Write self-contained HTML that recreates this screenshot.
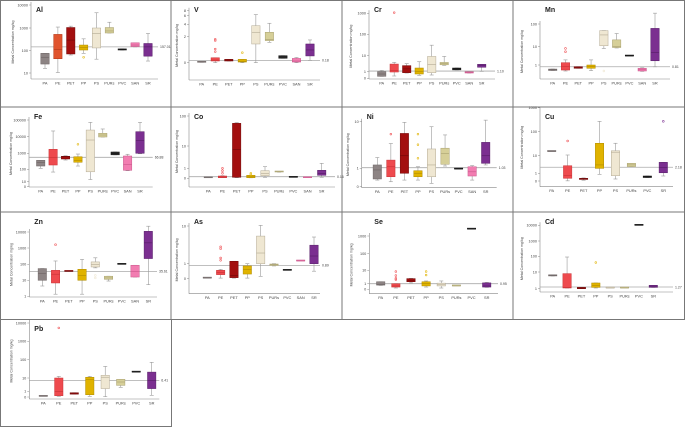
<!DOCTYPE html>
<html><head><meta charset="utf-8"><style>
html,body{margin:0;padding:0;background:#fff;}
svg{display:block;font-family:"Liberation Sans",sans-serif;}
</style></head><body>
<svg id="fig" width="685" height="430" viewBox="0 0 685 430"></svg>
<script>
// ===== DATA (mg/kg) — each box: [min, q1, median, q3, max]; null = no data =====
const cats9 = ["PA","PE","PET","PP","PS","PURs","PVC","SAN","SR"];
const cats8 = ["PA","PE","PET","PP","PS","PURs","PVC","SR"];
const alBoxes = [[16,25,50,75,75],[10.5,43,110,520,1100],[63,70,290,1050,1200],[75,105,138,175,330],[41,130,570,1000,4600],[600,600,740,1050,1780],[105,105,110,118,118],[145,150,175,220,220],[34,56,145,205,570]];
const alOut = [[3,50]];
const vBoxes = [[0.03,0.03,0.05,0.07,0.07],[0,0.13,0.2,0.38,0.38],[0.13,0.13,0.2,0.26,0.26],[0,0.05,0.1,0.26,0.26],[0,1.44,2.56,3.7,6.4],[1.57,1.7,1.8,2.56,4.2],[0.34,0.34,0.44,0.54,0.54],[0,0.05,0.13,0.33,0.4],[0.18,0.52,0.98,1.44,1.75]];
const vOut = [[1,0.85],[1,1.05],[1,1.7],[1,1.8],[3,0.77]];
const crBoxes = [[0.3,0.3,0.65,1,1.2],[0.35,0.95,1.2,3,3.8],[0.8,0.85,1.5,2.4,3.2],[0.45,0.65,1,1.7,4.2],[0.5,0.85,2.9,9,31],[2.5,2.7,3.3,3.8,9],[1.3,1.3,1.5,1.7,1.7],[0.8,0.8,0.9,1,1],[1.05,1.9,2.5,2.9,2.9]];
const crOut = [[1,1070]];
const mnBoxes = [[0.5,0.5,0.55,0.6,0.6],[0.47,0.53,0.81,1.34,1.9],[0.66,0.66,0.73,0.81,0.81],[0.49,0.66,0.81,1,1.9],[8,11,33,51,51],[8.5,9,10,20,38],[3.1,3.1,3.1,3.1,3.1],[0.45,0.47,0.55,0.66,0.7],[0.8,1.7,4.9,64,300]];
const mnOut = [[1,5.3],[1,8],[4,0.47]];
const feBoxes = [[115,160,260,365,365],[60,185,560,1740,22000],[380,440,610,650,700],[160,275,350,610,900],[15,63,6300,25000,72000],[9600,9600,12600,16000,29000],[800,800,980,1200,1200],[77,83,205,680,870],[940,1000,6000,20000,72000]];
const feOut = [[3,3500]];
const coBoxes = [[0.05,0.05,0.06,0.07,0.07],[0.06,0.06,0.13,0.23,0.26],[0.06,0.1,7.1,57,60],[0.05,0.06,0.15,0.3,0.3],[0.1,0.26,0.5,0.76,1.18],[0.62,0.63,0.66,0.69,0.7],[0.1,0.1,0.1,0.1,0.1],[0.06,0.06,0.06,0.06,0.06],[0.1,0.3,0.5,0.8,1.67]];
const coOut = [[1,0.5],[1,0.76],[1,1],[3,0.36],[3,0.5]];
const niBoxes = [[0.36,0.42,0.91,1.18,1.7],[0.27,0.54,1.08,1.5,3.4],[0.36,0.73,1.86,5.6,9.7],[0.36,0.54,0.73,0.87,1.08],[0.18,0.54,1.18,2.6,7.8],[1.12,1.22,2.1,2.7,5.2],[0.96,0.96,0.96,0.96,0.96],[0.36,0.58,0.81,1.08,1.14],[1.18,1.28,1.86,3.6,10.8]];
const niOut = [[1,5.4],[3,1.64],[3,3.2],[3,5.4]];
const cuBoxes = [[15,15,15,15,15],[0.02,0.35,0.69,2.7,10.7],[0.1,0.2,0.28,0.35,0.4],[0.87,1.9,3,33,270],[0.26,0.69,14,16,33],[2.4,2.4,3,3.7,3.7],[0.45,0.45,0.55,0.65,0.65],[0.65,1.07,2.1,4.2,4.2]];
const cuOut = [[1,41],[7,270]];
const znBoxes = [[4.4,10,26,54,54],[1.35,6.8,24,42,160],[36,36,36,36,36],[1.35,10,20,49,200],[60,68,100,140,250],[9,11.5,14,18,18],[100,100,100,100,100],[16,16,36,87,87],[5.3,225,2100,11000,23000]];
const znOut = [[1,1600],[4,20],[4,14]];
const asBoxes = [[0.04,0.04,0.04,0.04,0.04],[0.04,0.27,0.4,0.56,0.62],[0.04,0.07,0.22,1.16,1.16],[0.04,0.31,0.62,0.85,1],[0.16,1,1.92,5.4,10.4],[0.85,0.88,0.93,0.98,1],[0.56,0.56,0.56,0.56,0.56],[1.18,1.18,1.18,1.18,1.18],[0.5,1,1.6,3.1,5.1]];
const asOut = [[1,1.23],[1,1.42],[1,2.5],[1,2.8]];
const seBoxes = [[0.7,0.75,0.9,1.4,1.4],[0.23,0.4,0.6,1,1],[1.15,1.4,1.8,2.4,2.5],[0.4,0.6,1,1.4,1.6],[0.23,0.6,0.9,1.1,1.6],[0.6,0.6,0.6,0.6,0.6],[2450,2450,2450,2450,2450],[0.35,0.4,0.6,1.15,1.25]];
const seOut = [[1,2],[1,2.5],[1,4],[1,8],[3,4.4],[3,8]];
const cdBoxes = [[5.8,5.8,6.3,6.8,6.8],[1.1,1.1,1.2,8,90],[1,1,1.1,1.2,1.2],[1.1,1.2,1.6,2.2,2.2],[1.1,1.1,1.1,1.1,1.1],[1.1,1.1,1.1,1.1,1.1],[10000,10000,10000,10000,10000],[1.2,1.2,1.4,1.6,1.6]];
const cdOut = [[3,40]];
const pbBoxes = [[0.12,0.12,0.12,0.12,0.12],[0.12,0.23,1,10,12.3],[0.5,0.5,0.6,0.75,0.75],[0.12,0.4,8,11,12.3],[0.05,1.6,11,14,43],[2,2.8,5,8,8],[21,21,21,21,21],[0.3,1.6,6.3,21,72]];
const pbOut = [[1,5400]];
const refValues = [145,0.18,1.1,0.8,560,0.16,1.03,2.2,36,0.89,1,1.27,6.6];
const refLabels = ["157.01","0.18","1.10","0.81","66.88","0.16","1.03","2.18","35.61","0.89","0.95","1.27","6.41"];
const alTicks=[10000,1000,100,10], vTicks=[8,6,4,2,0], crTicks=[1000,100,10,1,0], mnTicks=[100,10,1],
      feTicks=[100000,10000,1000,100,10,0], coTicks=[100,10,1,0], niTicks=[10,1,0], cuTicks=[1000,100,10,1,0],
      znTicks=[10000,1000,100,10,1], asTicks=[10,1,0], seTicks=[1000,100,10,1,0], cdTicks=[10000,1000,100,10,1],
      pbTicks=[10000,1000,100,10,1,0];

// ===== LAYOUT (pixel geometry only) =====
const panels = [
 {n:"Al",x0:0,y0:0,ax:31,ay:79,c0:45,c1:148,r:158,tk:alTicks,ty:[5,28,50.5,73],cats:cats9,b:alBoxes,o:alOut},
 {n:"V",x0:171,y0:0,ax:18,ay:80,c0:30.7,c1:139,r:149,tk:vTicks,ty:[10.7,15.7,24.3,36.7,62.7],cats:cats9,b:vBoxes,o:vOut},
 {n:"Cr",x0:342,y0:0,ax:27,ay:79,c0:39.7,c1:139.7,r:153,tk:crTicks,ty:[13.3,34.3,55.7,71.7,78.3],cats:cats9,b:crBoxes,o:crOut},
 {n:"Mn",x0:513,y0:0,ax:27,ay:79,c0:39.7,c1:142,r:157,tk:mnTicks,ty:[24,46.7,65],cats:cats9,b:mnBoxes,o:mnOut},
 {n:"Fe",x0:0,y0:107,ax:29,ay:80,c0:40.7,c1:140,r:152.7,tk:feTicks,ty:[13,29.7,46.3,62.3,74.7,79.7],cats:cats9,b:feBoxes,o:feOut},
 {n:"Co",x0:171,y0:107,ax:18,ay:80,c0:37.3,c1:150.7,r:164,tk:coTicks,ty:[9,39,61.3,71.3],cats:cats9,b:coBoxes,o:coOut},
 {n:"Ni",x0:342,y0:107,ax:19.7,ay:80.7,c0:35.3,c1:143.7,r:154.7,tk:niTicks,ty:[14.7,61.3,79.7],cats:cats9,b:niBoxes,o:niOut},
 {n:"Cu",x0:513,y0:107,ax:27,ay:79.7,c0:38.7,c1:150.3,r:160,tk:cuTicks,ty:[0.7,24.7,48.7,66.3,74],cats:cats8,b:cuBoxes,o:cuOut},
 {n:"Zn",x0:0,y0:212,ax:29.3,ay:85,c0:42.3,c1:148.3,r:157,tk:znTicks,ty:[20,36,52.3,68.3,84.3],cats:cats9,b:znBoxes,o:znOut},
 {n:"As",x0:171,y0:212,ax:18,ay:81.7,c0:36.3,c1:143,r:149,tk:asTicks,ty:[14,51.7,66.7],cats:cats9,b:asBoxes,o:asOut},
 {n:"Se",x0:342,y0:212,ax:27.3,ay:81.7,c0:38.7,c1:144.7,r:156,tk:seTicks,ty:[24,41.7,58.3,71.7,77.3],cats:cats8,b:seBoxes,o:seOut},
 {n:"Cd",x0:513,y0:212,ax:27,ay:80,c0:39.7,c1:140.3,r:160,tk:cdTicks,ty:[13.3,29,44.3,60,76.7],cats:cats8,b:cdBoxes,o:cdOut},
 {n:"Pb",x0:0,y0:319,ax:29.3,ay:80,c0:43.3,c1:151.7,r:159.3,tk:pbTicks,ty:[4,22.3,40.7,59,72.3,78],cats:cats8,b:pbBoxes,o:pbOut}
];
const fills={PA:"#8d8484",PE:"#ee4a4e",PET:"#a30f0f",PP:"#e0b300",PS:"#efe7d2",PURs:"#d6cf98",PVC:"#2d2d2d",SAN:"#f27db1",SR:"#7b2f90"};
const strokes={PA:"#6d6464",PE:"#c83236",PET:"#700808",PP:"#b08c00",PS:"#b3aa94",PURs:"#a8a070",PVC:"#111",SAN:"#c9588c",SR:"#551c66"};

const NS="http://www.w3.org/2000/svg";
const svg=document.getElementById('fig');
function mk(tag,attrs,parent){const e=document.createElementNS(NS,tag);for(const k in attrs)e.setAttribute(k,attrs[k]);(parent||svg).appendChild(e);return e;}
function tr(v,lg){return lg?Math.log10(v):v;}
function yScale(p,v){
  const t=p.tk, y=p.ty, n=t.length;
  let i=0;
  if(v>=t[0]) i=0; else if(v<=t[n-1]) i=n-2; else {for(i=0;i<n-1;i++){if(v<=t[i]&&v>=t[i+1])break;}}
  const a=t[i],b=t[i+1];
  const lg=a>0&&b>0&&v>0;
  const f=(tr(v,lg)-tr(a,lg))/(tr(b,lg)-tr(a,lg));
  return y[i]+f*(y[i+1]-y[i]);
}
function xScale(p,i){return p.c0+i*(p.c1-p.c0)/(p.cats.length-1);}

const frame=mk('g',{});


mk('rect',{x:0.5,y:0.5,width:684,height:319,fill:"none",stroke:"#777","stroke-width":1},frame);
[107,212].forEach(yy=>mk('line',{x1:0,y1:yy,x2:685,y2:yy,stroke:"#777"},frame));
[171,342,513].forEach(xx=>mk('line',{x1:xx,y1:0,x2:xx,y2:319,stroke:"#777"},frame));
mk('rect',{x:0.5,y:319.5,width:171,height:107,fill:"none",stroke:"#777"},frame);

panels.forEach((p,pi)=>{
  const g=mk('g',{transform:`translate(${p.x0},${p.y0})`});
  
  
  mk('line',{x1:p.ax,y1:Math.max(p.ty[0]-3,0),x2:p.ax,y2:p.ay,stroke:"#888","stroke-width":0.6},g);
  mk('line',{x1:p.ax,y1:p.ay,x2:p.r,y2:p.ay,stroke:"#888","stroke-width":0.6},g);
  p.tk.forEach((tv,ti)=>{
    const yy=yScale(p,tv);
    mk('line',{x1:p.ax-2,y1:yy,x2:p.ax,y2:yy,stroke:"#888","stroke-width":0.5},g);
    const t=mk('text',{x:p.ax-3,y:yy+1.3,"font-size":3.8,"text-anchor":"end",fill:"#444"},g);
    t.textContent=tv;
    
    
  });
  const yt=mk('text',{transform:`translate(${Math.max(p.ax-17,7)},${(p.ty[0]+p.ay)/2}) rotate(-90)`,"font-size":3.6,"text-anchor":"middle",fill:"#444"},g);
  yt.textContent="Metal Concentration mg/kg";
  
  
  const tt=mk('text',{x:p.ax+5,y:12,"font-size":7,"font-weight":"bold",fill:"#222"},g);
  tt.textContent=p.n;
  
  
  const ry=yScale(p,refValues[pi]);
  const rl=mk('line',{x1:p.ax,y1:ry,x2:p.r,y2:ry,stroke:"#aaa","stroke-width":0.8},g);
  
  
  const rt=mk('text',{x:p.r+2,y:ry+1.3,"font-size":3.5,fill:"#444"},g);
  rt.textContent=refLabels[pi];
  
  
  p.cats.forEach((c,ci)=>{
    const cx=xScale(p,ci);
    const lb=mk('text',{x:cx,y:p.ay+5.5,"font-size":3.9,"text-anchor":"middle",fill:"#444"},g);
    lb.textContent=c;
    
    
    const d=p.b[ci]; if(!d) return;
    const fill=(p.n==="Al"&&c==="PE")?"#e0542e":fills[c];
    const st=(p.n==="Al"&&c==="PE")?"#b03a1c":strokes[c];
    const bg=mk('g',{},g);
    
    
    const y0=yScale(p,d[0]),y1=yScale(p,d[1]),y2=yScale(p,d[2]),y3=yScale(p,d[3]),y4=yScale(p,d[4]);
    const w=8.4;
    if(Math.abs(y0-y4)>0.5){
      mk('line',{x1:cx,y1:y0,x2:cx,y2:y4,stroke:"#999","stroke-width":0.6},bg);
      mk('line',{x1:cx-2,y1:y0,x2:cx+2,y2:y0,stroke:"#999","stroke-width":0.6},bg);
      mk('line',{x1:cx-2,y1:y4,x2:cx+2,y2:y4,stroke:"#999","stroke-width":0.6},bg);
    }
    const h=Math.max(y1-y3,1);
    mk('rect',{x:cx-w/2,y:Math.min(y3,y1-1),width:w,height:h,fill:fill,stroke:st,"stroke-width":0.5},bg);
    mk('line',{x1:cx-w/2,y1:y2,x2:cx+w/2,y2:y2,stroke:st,"stroke-width":0.6},bg);
  });
  p.o.forEach(o=>{
    const c=p.cats[o[0]];
    const pt=mk('circle',{cx:xScale(p,o[0]),cy:yScale(p,o[1]),r:0.9,fill:"none",stroke:fills[c],"stroke-width":0.6},g);
    
    
  });
});
</script>
</body></html>
